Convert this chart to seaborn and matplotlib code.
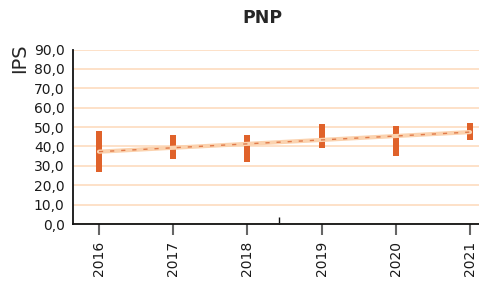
import matplotlib
matplotlib.use("Agg")
import matplotlib.pyplot as plt
import seaborn as sns
import pandas as pd

years = [2016, 2017, 2018, 2019, 2020, 2021]
low = [26.8, 33.5, 32.0, 39.2, 35.0, 43.3]
high = [47.9, 45.9, 45.9, 51.5, 50.5, 52.0]
trend_years = [2016, 2021]
trend_vals = [37.3, 47.4]
yticks = [0, 10, 20, 30, 40, 50, 60, 70, 80, 90]

sns.set_style("white")
plt.rcParams['font.family'] = ['DejaVu Sans']

fig = plt.figure(figsize=(4.79, 2.82), dpi=100)
ax = fig.add_axes([73/479, 1-224/282, 1-73/479, (224-49.5)/282])

df = pd.DataFrame({"year": years, "low": low, "span": [h - l for h, l in zip(high, low)]})
sns.barplot(data=df, x="year", y="span", bottom=df["low"], native_scale=True,
            width=0.08, color="#E0622A", saturation=1, ax=ax, zorder=3, edgecolor="none")

tdf = pd.DataFrame({"year": trend_years, "val": trend_vals})
sns.lineplot(data=tdf, x="year", y="val", color="#FBD2AE", linewidth=3.0, ax=ax, zorder=4)
sns.lineplot(data=tdf, x="year", y="val", color="#E07A4A", linewidth=1.0, ax=ax, zorder=5,
             linestyle=(0, (3, 5)))

ax.set_ylim(0, 90)
ax.set_xlim(2016 - 26/74.2, 2021 + 9/74.2)
ax.set_yticks(yticks)
ax.set_yticklabels([f"{v:.1f}".replace(".", ",") for v in yticks], fontsize=10, color="#1a1a1a")
ax.set_xticks(years)
ax.set_xticklabels([str(y) for y in years], rotation=90, fontsize=10, color="#1a1a1a")
ax.set_xticks([2016 + 180/74.2], minor=True)
ax.yaxis.grid(True, color="#FDDCBF", linewidth=1.2, zorder=0)
ax.set_axisbelow(True)
ax.tick_params(axis="x", which="major", direction="out", length=8, width=1.5, color="#666666", pad=4, bottom=True)
ax.tick_params(axis="x", which="minor", direction="in", length=5, width=1.0, color="#111111", bottom=True)
ax.tick_params(axis="y", length=0, pad=6)
ax.set_xlabel("")
ax.set_ylabel("")
for s in ["top", "right"]:
    ax.spines[s].set_visible(False)
for s in ["left", "bottom"]:
    ax.spines[s].set_color("#111111")
    ax.spines[s].set_linewidth(1.3)

fig.text(262/479, 1-18/282, "PNP", ha="center", va="center", fontsize=12.5, fontweight="bold")
fig.text(20/479, 1-58/282, "IPS", ha="center", va="center", rotation=90, fontsize=14)

fig.savefig("out.png", dpi=100)
